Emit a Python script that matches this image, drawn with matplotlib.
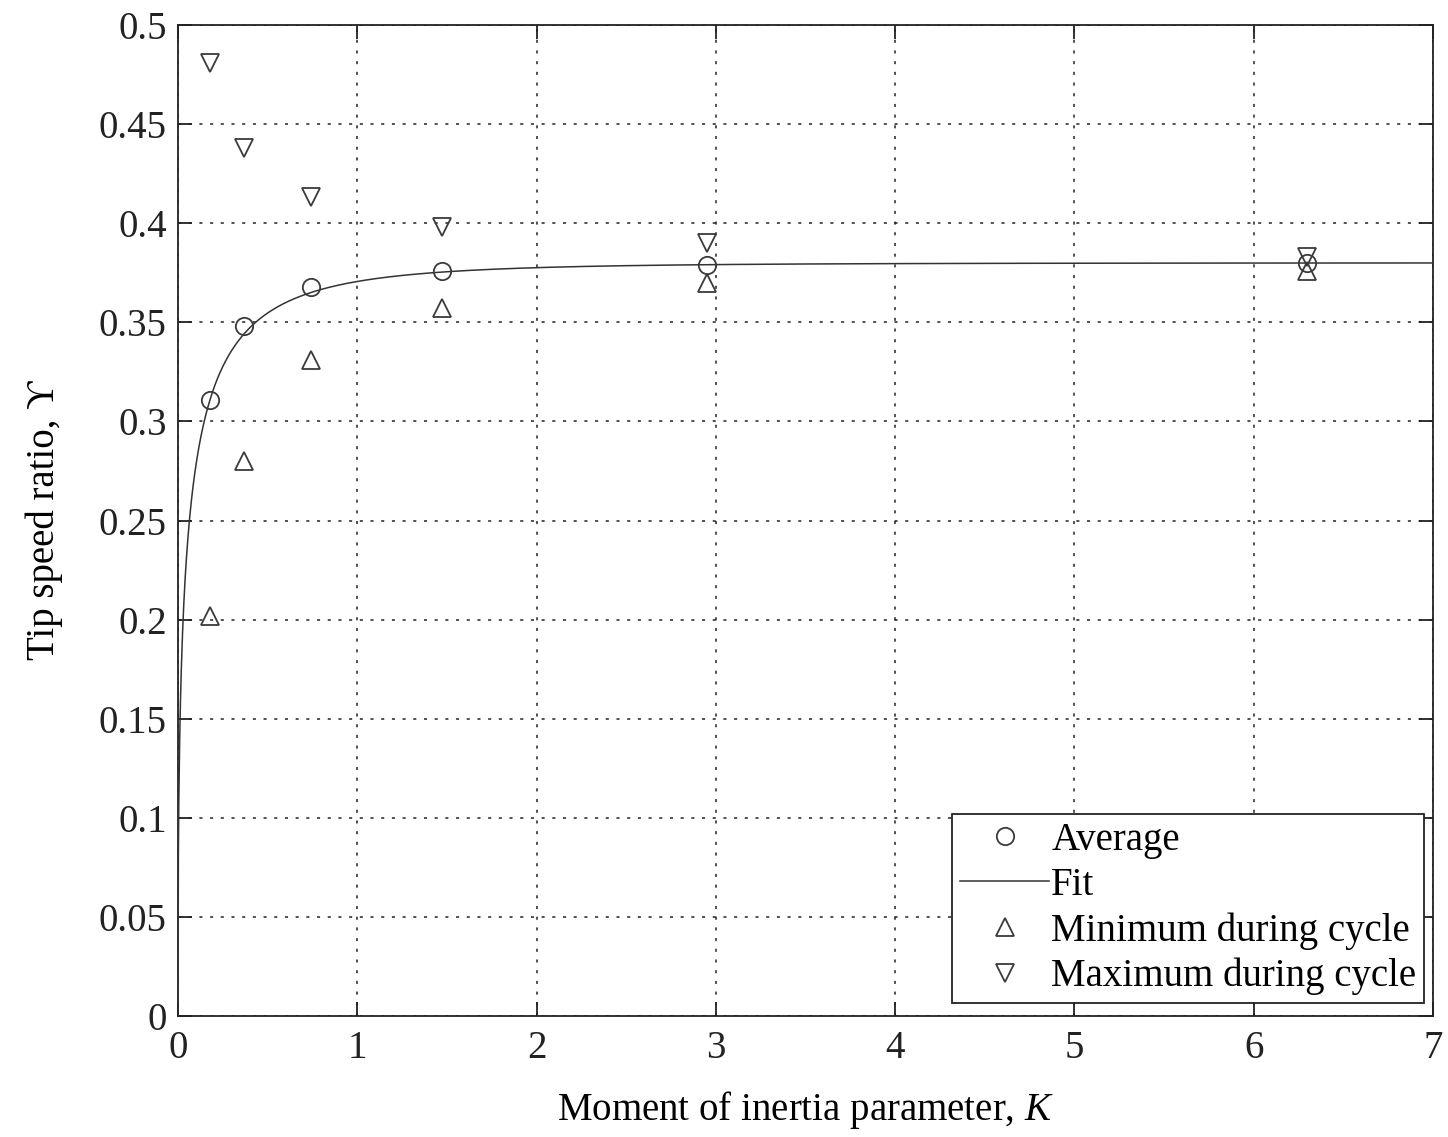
import matplotlib
matplotlib.use('Agg')
import matplotlib.pyplot as plt
from matplotlib.ticker import FuncFormatter
import numpy as np

plt.rcParams['font.family'] = ['Liberation Serif', 'DejaVu Serif']
plt.rcParams['mathtext.fontset'] = 'custom'
plt.rcParams['mathtext.rm'] = 'Liberation Serif'
plt.rcParams['mathtext.it'] = 'Liberation Serif:italic'
plt.rcParams['font.size'] = 28

# moment of inertia parameter and tip speed ratio per run
K = [0.18, 0.37, 0.74, 1.47, 2.95, 6.3]
tsr_avg = [0.311, 0.348, 0.368, 0.376, 0.379, 0.380]
tsr_min = [0.202, 0.280, 0.331, 0.357, 0.370, 0.376]
tsr_max = [0.481, 0.438, 0.413, 0.398, 0.390, 0.383]

# stretched-exponential fit  Y = a (1 - exp(-b K^p))
fit_a = 0.380
fit_b = 3.7
fit_p = 0.45

mk = '#3a3a3a'

fig = plt.figure(figsize=(14.48, 11.37), dpi=100)
ax = fig.add_axes([0.1229, 0.1064, 0.8667, 0.8716])

kk = np.linspace(0.0, 7, 3000)
ax.plot(K, tsr_avg, 'o', ms=12.5, mfc='none', mec=mk, mew=1.3, label='Average', zorder=4)
ax.plot(kk, fit_a * (1 - np.exp(-fit_b * kk ** fit_p)), '-', color='#333333', lw=1.1,
        label='Fit', zorder=3)
ax.plot(K, tsr_min, '^', ms=13, mfc='none', mec=mk, mew=1.3, label='Minimum during cycle', zorder=4)
ax.plot(K, tsr_max, 'v', ms=13, mfc='none', mec=mk, mew=1.3, label='Maximum during cycle', zorder=4)

ax.set_xlim(0, 7)
ax.set_ylim(0, 0.5)
ax.set_xticks(range(8))
ax.set_yticks(np.arange(0, 0.501, 0.05))
ax.yaxis.set_major_formatter(FuncFormatter(lambda v, p: f'{v:.2f}'.rstrip('0').rstrip('.') if v else '0'))
ax.tick_params(direction='in', length=10, width=1.3, top=True, right=True,
               labelsize=28, colors='#222222')
ax.tick_params(axis='y', pad=8)
ax.tick_params(axis='x', pad=10)
ax.grid(True, color='#222222', lw=1.1, linestyle=(0, (2, 5)))
for s in ax.spines.values():
    s.set_linewidth(1.3)
    s.set_color('#222222')

ax.set_xlabel('Moment of inertia parameter, $\\mathit{K}$', fontsize=28, labelpad=16)
ax.set_ylabel('Tip speed ratio, ϒ', fontsize=28, labelpad=26)

leg = ax.legend(loc='lower right', bbox_to_anchor=(0.993, 0.013), fancybox=False,
                framealpha=1, edgecolor='#222222', handlelength=2.3, handletextpad=0.05,
                labelspacing=0.21, borderpad=0.2, borderaxespad=0, fontsize=28)
leg.get_frame().set_linewidth(1.3)

fig.savefig('out.png', dpi=100, facecolor='white')
